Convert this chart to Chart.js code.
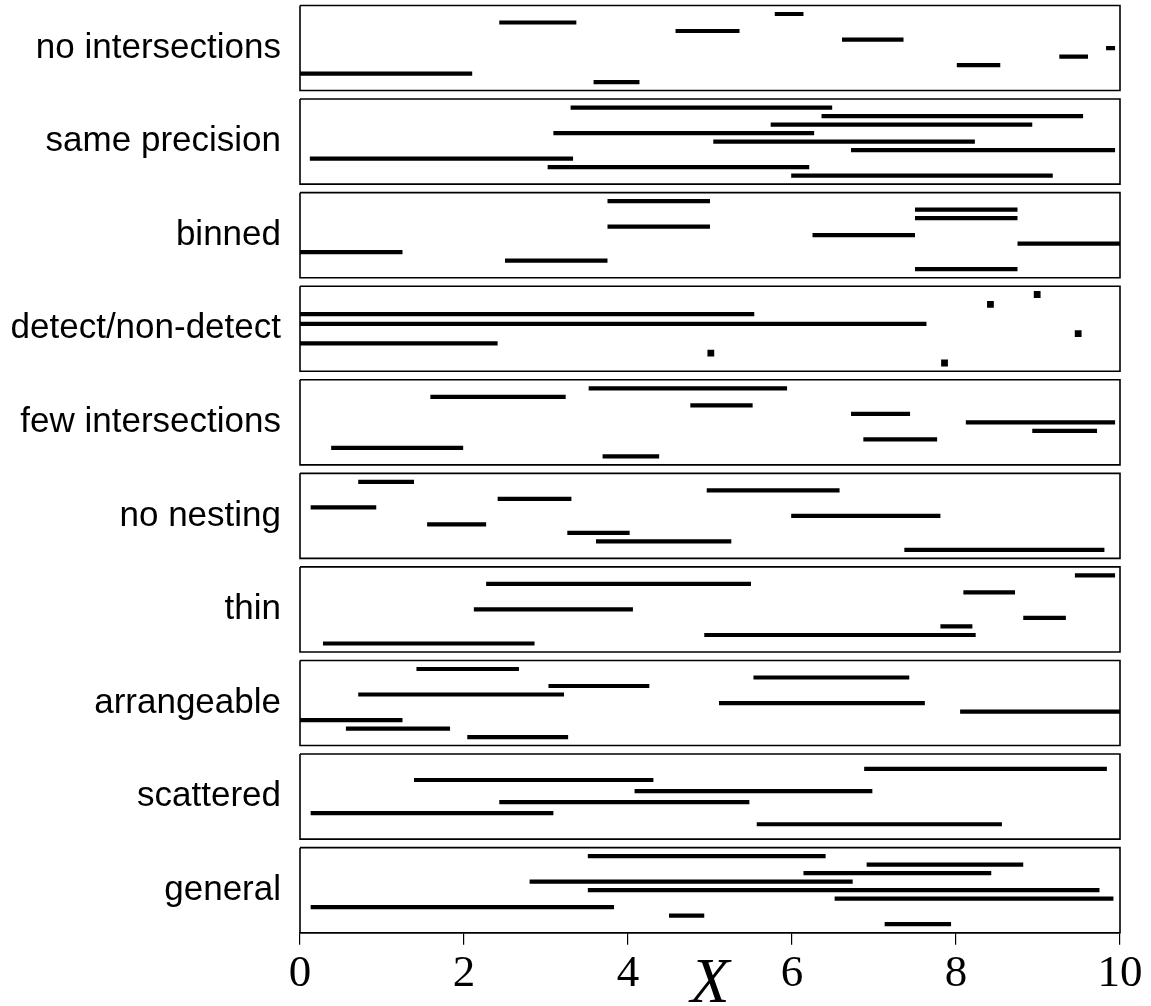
<!DOCTYPE html>
<html>
<head>
<meta charset="utf-8">
<script src="https://cdn.jsdelivr.net/npm/chart.js@4"></script>
<style>
  html, body { margin: 0; padding: 0; background: #fff; }
</style>
</head>
<body>
<canvas id="chart" width="1151" height="1006"></canvas>
<script>
// Названия панелей (сверху вниз)
const panelNames = ['no intersections', 'same precision', 'binned', 'detect/non-detect',
  'few intersections', 'no nesting', 'thin', 'arrangeable', 'scattered', 'general'];

// Интервалы [начало, конец] по строкам, сверху вниз; точка = [v, v]
const noIntersections = [[5.79, 6.14], [2.43, 3.37], [4.58, 5.36], [6.61, 7.36], [9.83, 9.94],
  [9.26, 9.61], [8.01, 8.54], [0, 2.10], [3.58, 4.14]];
const samePrecision = [[3.30, 6.49], [6.36, 9.55], [5.74, 8.93], [3.09, 6.27], [5.04, 8.23],
  [6.72, 9.94], [0.12, 3.33], [3.02, 6.21], [5.99, 9.18]];
const binned = [[3.75, 5], [7.5, 8.75], [7.5, 8.75], [3.75, 5], [6.25, 7.5],
  [8.75, 10], [0, 1.25], [2.5, 3.75], [7.5, 8.75]];
const detectNonDetect = [[8.99, 8.99], [8.42, 8.42], [0, 5.54], [0, 7.64], [9.49, 9.49],
  [0, 2.41], [5.01, 5.01], [7.86, 7.86]];
const fewIntersections = [[3.52, 5.94], [1.59, 3.24], [4.76, 5.52], [6.72, 7.44], [8.12, 9.94],
  [8.93, 9.72], [6.87, 7.77], [0.38, 1.99], [3.69, 4.38]];
const noNesting = [[0.71, 1.39], [4.96, 6.58], [2.41, 3.31], [0.13, 0.93], [5.99, 7.81],
  [1.55, 2.27], [3.26, 4.02], [3.61, 5.26], [7.37, 9.81]];
const thin = [[9.45, 9.94], [2.27, 5.50], [8.09, 8.72], null, [2.12, 4.06],
  [8.82, 9.34], [7.81, 8.20], [4.93, 8.24], [0.28, 2.86]];
const arrangeable = [[1.42, 2.67], [5.53, 7.43], [3.03, 4.26], [0.71, 3.22], [5.11, 7.62],
  [8.05, 10.0], [0, 1.25], [0.56, 1.83], [2.04, 3.27]];
const scattered = [[6.88, 9.84], [1.39, 4.31], [4.08, 6.98], [2.43, 5.48], [0.13, 3.09], [5.57, 8.56]];
const general = [[3.51, 6.41], [6.91, 8.82], [6.14, 8.43], [2.80, 6.74], [3.51, 9.75],
  [6.52, 9.92], [0.13, 3.83], [4.50, 4.93], [7.13, 7.94]];

const panels = [noIntersections, samePrecision, binned, detectNonDetect, fewIntersections,
  noNesting, thin, arrangeable, scattered, general];
// шаг между строками внутри панели (в единицах оси y)
const rowSpacing = [1, 1, 1, 1.15, 1, 1, 1, 1, 1.3, 1];

const X_MIN = 0, X_MAX = 10;
const PITCH = 11, BOX = 10; // панель занимает BOX единиц, шаг между панелями PITCH

function rowLevel(p, i, n) {
  return PITCH * p + BOX / 2 + (i - (n - 1) / 2) * rowSpacing[p];
}

// Подготовка точек: отрезки, точечные значения и рамки панелей
const segPoints = [], dotPoints = [], framePoints = [];
panels.forEach((list, p) => {
  list.forEach((iv, i) => {
    if (!iv) return;
    const y = rowLevel(p, i, list.length);
    if (iv[0] === iv[1]) {
      dotPoints.push({ x: iv[0], y: y });
    } else {
      segPoints.push({ x: iv[0], y: y }, { x: iv[1], y: y }, { x: iv[1], y: null });
    }
  });
  const top = PITCH * p, bottom = top + BOX;
  framePoints.push({ x: X_MIN, y: top }, { x: X_MAX, y: top }, { x: X_MAX, y: bottom },
    { x: X_MIN, y: bottom }, { x: X_MIN, y: top }, { x: X_MIN, y: null });
});

new Chart(document.getElementById('chart'), {
  type: 'scatter',
  data: {
    datasets: [
      {
        data: framePoints, showLine: true, spanGaps: false, clip: false,
        borderColor: '#000', borderWidth: 1.6, pointRadius: 0, borderJoinStyle: 'miter'
      },
      {
        data: segPoints, showLine: true, spanGaps: false,
        borderColor: '#000', borderWidth: 4.2, pointRadius: 0, borderCapStyle: 'butt'
      },
      {
        data: dotPoints, showLine: false, pointStyle: 'rect', pointRadius: 4.8,
        pointBackgroundColor: '#000', pointBorderWidth: 0
      }
    ]
  },
  options: {
    responsive: false,
    animation: false,
    layout: { padding: { top: 5.5, right: 31, bottom: 0, left: 0 } },
    plugins: { legend: { display: false }, tooltip: { enabled: false } },
    scales: {
      x: {
        type: 'linear', position: 'bottom', min: X_MIN, max: X_MAX,
        afterFit: (s) => { s.height = 73.3; s.paddingLeft = 0; s.paddingRight = 0; },
        ticks: {
          stepSize: 2, maxRotation: 0, color: '#000', padding: 2,
          font: { family: 'Liberation Serif', size: 45 }
        },
        grid: { drawOnChartArea: false, drawTicks: true, tickLength: 12, color: '#000', lineWidth: 1.2 },
        border: { display: true, color: '#000', width: 1.6 },
        title: {
          display: true, text: 'X', color: '#000',
          font: { family: 'Liberation Serif', size: 64, style: 'italic' },
          padding: { top: 0, bottom: -18 }
        }
      },
      y: {
        type: 'linear', min: 0, max: PITCH * (panels.length - 1) + BOX, reverse: true,
        afterFit: (s) => { s.width = 300; s.paddingTop = 0; s.paddingBottom = 0; },
        afterBuildTicks: (s) => {
          s.ticks = panelNames.map((_, p) => ({ value: PITCH * p + BOX / 2 }));
        },
        ticks: {
          autoSkip: false, color: '#000', padding: 11,
          font: { family: 'Liberation Sans', size: 35 },
          callback: (v) => panelNames[Math.round((v - BOX / 2) / PITCH)]
        },
        grid: { display: false },
        border: { display: false }
      }
    }
  }
});
</script>
</body>
</html>
